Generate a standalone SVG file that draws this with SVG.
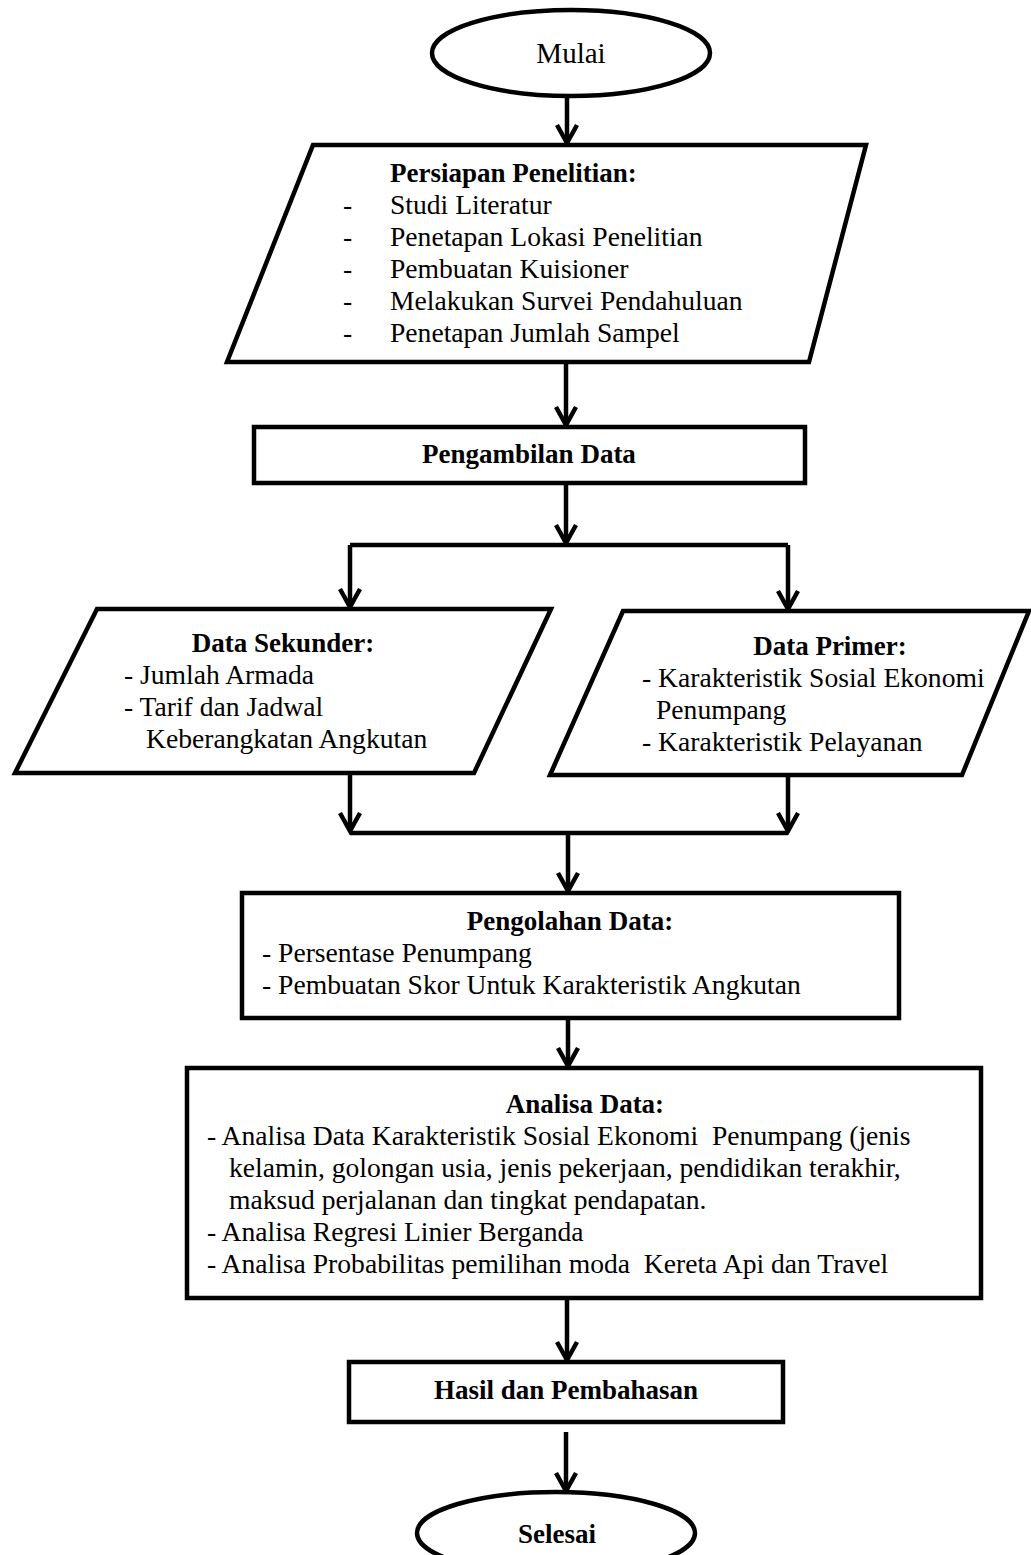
<svg xmlns="http://www.w3.org/2000/svg" width="1031" height="1555" viewBox="0 0 1031 1555">
<style>
.shape{fill:#fff;stroke:#000;stroke-width:4.5;stroke-linejoin:miter}
.conn{fill:none;stroke:#000;stroke-width:4.5}
text{font-family:"Liberation Serif","Times New Roman",serif;font-size:27.6px;fill:#000}
.b{font-weight:bold;font-size:27px}
.c{text-anchor:middle}
.pre{white-space:pre}
</style>
<defs>
<marker id="arr" markerUnits="userSpaceOnUse" markerWidth="26" markerHeight="26" viewBox="0 0 26 26" refX="22" refY="13" orient="auto">
<path d="M4,3 L22,13 L4,23" fill="none" stroke="#000" stroke-width="4.5"/>
</marker>
</defs>
<rect width="1031" height="1555" fill="#fff"/>
<g id="connectors">
<path class="conn" d="M567,97 V143" marker-end="url(#arr)"/>
<path class="conn" d="M566,362 V425" marker-end="url(#arr)"/>
<path class="conn" d="M566,483 V543" marker-end="url(#arr)"/>
<path class="conn" d="M350,545 H788"/>
<path class="conn" d="M350,545 V607" marker-end="url(#arr)"/>
<path class="conn" d="M788,545 V609" marker-end="url(#arr)"/>
<path class="conn" d="M350,773 V831" marker-end="url(#arr)"/>
<path class="conn" d="M788,774 V831" marker-end="url(#arr)"/>
<path class="conn" d="M350,833 H788"/>
<path class="conn" d="M568,833 V891" marker-end="url(#arr)"/>
<path class="conn" d="M568,1006 V1066" marker-end="url(#arr)"/>
<path class="conn" d="M567,1298 V1360" marker-end="url(#arr)"/>
<path class="conn" d="M566,1432 V1491" marker-end="url(#arr)"/>
</g>
<g id="mulai">
<ellipse class="shape" cx="571" cy="53" rx="139" ry="43"/>
<text class="c" x="571" y="63" style="font-size:29px">Mulai</text>
</g>
<g id="persiapan">
<polygon class="shape" points="313,145 866,145 809,362 227,362"/>
<text class="b" x="390" y="182">Persiapan Penelitian:</text>
<text x="343" y="214">-</text><text x="390" y="214">Studi Literatur</text>
<text x="343" y="246">-</text><text x="390" y="246">Penetapan Lokasi Penelitian</text>
<text x="343" y="278">-</text><text x="390" y="278">Pembuatan Kuisioner</text>
<text x="343" y="310">-</text><text x="390" y="310">Melakukan Survei Pendahuluan</text>
<text x="343" y="342">-</text><text x="390" y="342">Penetapan Jumlah Sampel</text>
</g>
<g id="pengambilan">
<rect class="shape" x="254" y="427" width="551" height="56"/>
<text class="b c" x="529" y="463">Pengambilan Data</text>
</g>
<g id="sekunder">
<polygon class="shape" points="97,609 551,609 474,773 15,773"/>
<text class="b c" x="283" y="652">Data Sekunder:</text>
<text x="124" y="684">- Jumlah Armada</text>
<text x="124" y="716">- Tarif dan Jadwal</text>
<text x="146" y="748">Keberangkatan Angkutan</text>
</g>
<g id="primer">
<polygon class="shape" points="623,611 1029,611 962,775 550,775"/>
<text class="b c" x="830" y="655">Data Primer:</text>
<text x="642" y="687">- Karakteristik Sosial Ekonomi</text>
<text x="656" y="719">Penumpang</text>
<text x="642" y="751">- Karakteristik Pelayanan</text>
</g>
<g id="pengolahan">
<rect class="shape" x="242" y="893" width="657" height="125"/>
<text class="b c" x="570" y="930">Pengolahan Data:</text>
<text x="262" y="962">- Persentase Penumpang</text>
<text x="262" y="994">- Pembuatan Skor Untuk Karakteristik Angkutan</text>
</g>
<g id="analisa">
<rect class="shape" x="187" y="1068" width="794" height="230"/>
<text class="b c" x="585" y="1113">Analisa Data:</text>
<text class="pre" x="207" y="1145">- Analisa Data Karakteristik Sosial Ekonomi  Penumpang (jenis</text>
<text x="229" y="1177">kelamin, golongan usia, jenis pekerjaan, pendidikan terakhir,</text>
<text x="229" y="1209">maksud perjalanan dan tingkat pendapatan.</text>
<text x="207" y="1241">- Analisa Regresi Linier Berganda</text>
<text class="pre" x="207" y="1273">- Analisa Probabilitas pemilihan moda  Kereta Api dan Travel</text>
</g>
<g id="hasil">
<rect class="shape" x="349" y="1362" width="434" height="60"/>
<text class="b c" x="566" y="1399">Hasil dan Pembahasan</text>
</g>
<g id="selesai">
<ellipse class="shape" cx="556" cy="1533" rx="139" ry="41"/>
<text class="b c" x="557" y="1543">Selesai</text>
</g>
</svg>
